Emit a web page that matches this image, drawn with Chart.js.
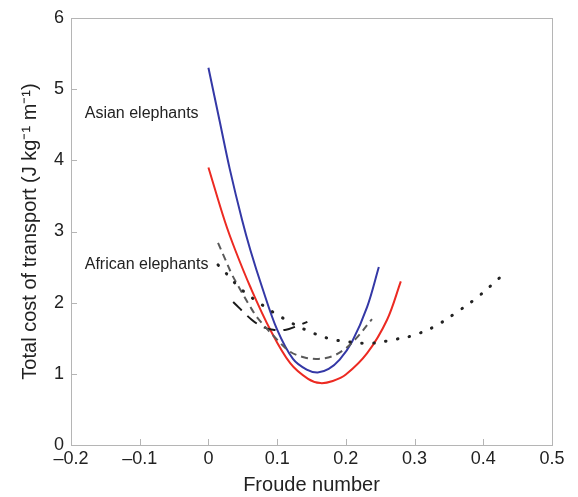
<!DOCTYPE html>
<html>
<head>
<meta charset="utf-8">
<title>Total cost of transport vs Froude number</title>
<script src="https://cdn.jsdelivr.net/npm/chart.js"></script>
<style>
html,body{margin:0;background:#fff}
#wrap{width:578px;height:497px}
</style>
</head>
<body>
<div id="wrap"><canvas id="c"></canvas></div>
<script>
/* ---- data ---- */
const asianX = [0.0, 0.017, 0.031, 0.049, 0.061, 0.078, 0.100, 0.123, 0.143, 0.159, 0.175, 0.191, 0.209, 0.231, 0.248];
const asianY = [5.30, 4.52, 3.88, 3.16, 2.74, 2.22, 1.62, 1.21, 1.06, 1.02, 1.07, 1.20, 1.45, 1.94, 2.50];

const redX = [0.0, 0.024, 0.039, 0.061, 0.090, 0.119, 0.145, 0.163, 0.181, 0.200, 0.231, 0.260, 0.280];
const redY = [3.90, 3.14, 2.74, 2.22, 1.62, 1.15, 0.93, 0.87, 0.90, 0.99, 1.29, 1.76, 2.30];

const grayX = [0.014, 0.024, 0.034, 0.046, 0.061, 0.072, 0.100, 0.119, 0.140, 0.160, 0.181, 0.200, 0.217, 0.238];
const grayY = [2.84, 2.62, 2.40, 2.19, 1.94, 1.78, 1.48, 1.31, 1.23, 1.21, 1.25, 1.36, 1.52, 1.77];

const dashX = [0.036, 0.063, 0.079, 0.094, 0.113, 0.126, 0.144];
const dashY = [2.01, 1.76, 1.66, 1.62, 1.62, 1.66, 1.73];

const dotX = [0.014, 0.031, 0.046, 0.078, 0.109, 0.141, 0.174, 0.203, 0.238, 0.269, 0.298, 0.330, 0.362, 0.392, 0.425];
const dotY = [2.53, 2.36, 2.20, 1.97, 1.78, 1.62, 1.50, 1.45, 1.43, 1.48, 1.54, 1.67, 1.87, 2.08, 2.36];

const xTicks = [-0.2, -0.1, 0, 0.1, 0.2, 0.3, 0.4, 0.5];
const yTicks = [0, 1, 2, 3, 4, 5, 6];

const labels = [
  {text:'Asian elephants',   x:-0.18, y:4.65},
  {text:'African elephants', x:-0.18, y:2.54}
];

const pts = (xs, ys) => xs.map((x, i) => ({x, y: ys[i]}));

function line(xs, ys, color, width, dash, cap){
  return {
    data: pts(xs, ys), showLine: true, pointRadius: 0,
    borderColor: color, borderWidth: width, borderDash: dash || [],
    borderCapStyle: cap || 'butt', tension: 0.35, fill: false
  };
}

/* box, inward ticks and text labels */
const frame = {
  id: 'frame',
  afterDraw(chart){
    const {ctx, chartArea: a, scales: {x, y}} = chart;
    ctx.save();
    ctx.strokeStyle = '#b5b5b5';
    ctx.lineWidth = 1;
    ctx.strokeRect(a.left + .5, a.top + .5, a.right - a.left, a.bottom - a.top);
    ctx.beginPath();
    xTicks.forEach(v => {
      const p = Math.round(x.getPixelForValue(v)) + .5;
      ctx.moveTo(p, a.bottom); ctx.lineTo(p, a.bottom - 6);
    });
    yTicks.forEach(v => {
      const p = Math.round(y.getPixelForValue(v)) + .5;
      ctx.moveTo(a.left, p); ctx.lineTo(a.left + 6, p);
    });
    ctx.stroke();
    ctx.fillStyle = '#222';
    ctx.font = '16px "Liberation Sans", Arial, sans-serif';
    ctx.textBaseline = 'middle';
    labels.forEach(l => ctx.fillText(l.text, x.getPixelForValue(l.x), y.getPixelForValue(l.y)));
    ctx.restore();
  }
};

const font = {family: '"Liberation Sans", Arial, sans-serif', size: 18};

new Chart(document.getElementById('c'), {
  type: 'scatter',
  data: {
    datasets: [
      line(dotX, dotY, '#222', 3, [0.5, 11.5], 'round'),
      line(grayX, grayY, '#5a5a5a', 2, [7, 5]),
      line(dashX, dashY, '#1a1a1a', 2, [12, 8]),
      line(redX, redY, '#ec2a22', 2),
      line(asianX, asianY, '#3438a6', 2)
    ]
  },
  options: {
    animation: false, responsive: true, maintainAspectRatio: false,
    layout: {padding: {top: 18, right: 26, left: 0, bottom: 0}},
    plugins: {legend: {display: false}, tooltip: {enabled: false}},
    scales: {
      x: {
        type: 'linear', min: -0.2, max: 0.5,
        afterBuildTicks: s => { s.ticks = xTicks.map(v => ({value: v})); },
        afterFit: s => { s.height = 52; },
        grid: {display: false, drawTicks: false},
        border: {display: false},
        ticks: {
          color: '#222', font, padding: 3,
          callback: v => (Math.abs(v) < 1e-9 ? '0' : (v < 0 ? '\u2013' : '') + Math.abs(v).toFixed(1))
        },
        title: {display: true, text: 'Froude number', color: '#222',
                font: {family: font.family, size: 20}, padding: {top: 4, bottom: 0}}
      },
      y: {
        type: 'linear', min: 0, max: 6,
        afterBuildTicks: s => { s.ticks = yTicks.map(v => ({value: v})); },
        afterFit: s => { s.width = 71; },
        grid: {display: false, drawTicks: false},
        border: {display: false},
        ticks: {color: '#222', font, padding: 7},
        title: {display: true, text: 'Total cost of transport (J kg\u207B\u00B9 m\u207B\u00B9)', color: '#222',
                font: {family: font.family, size: 20}, padding: {top: 18, bottom: 4}}
      }
    }
  },
  plugins: [frame]
});
</script>
</body>
</html>
